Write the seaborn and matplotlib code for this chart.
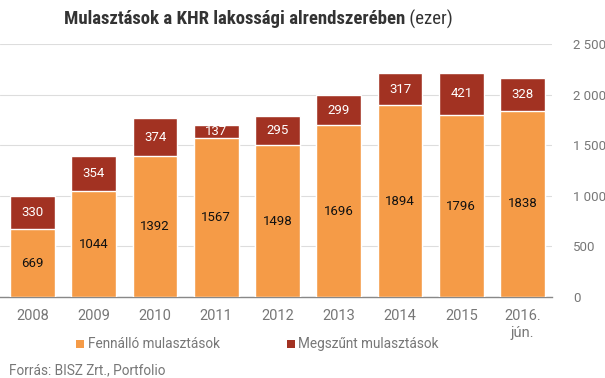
import matplotlib
matplotlib.use("Agg")
import matplotlib.pyplot as plt
import seaborn as sns
import pandas as pd
import numpy as np
from matplotlib.patches import Rectangle
from matplotlib import font_manager

years = ["2008", "2009", "2010", "2011", "2012", "2013", "2014", "2015", "2016.\njún."]
fennallo = [669, 1044, 1392, 1567, 1498, 1696, 1894, 1796, 1838]
megszunt = [330, 354, 374, 137, 295, 299, 317, 421, 328]
yticks = [0, 500, 1000, 1500, 2000, 2500]

ORANGE = "#F59B47"
RED = "#A23222"
GRAY = "#777777"

sns.set_theme(style="white")
plt.rcParams['font.family'] = ['Roboto', 'DejaVu Sans']

available = {f.name for f in font_manager.fontManager.ttflist}
cond = None
for cand in ["Roboto Condensed", "Liberation Sans Narrow", "Arial Narrow"]:
    if cand in available:
        cond = cand
        break

df = pd.DataFrame({"year": years, "fennallo": fennallo, "megszunt": megszunt})
df["total"] = df["fennallo"] + df["megszunt"]

fig = plt.figure(figsize=(6.05, 3.78), dpi=100)
ax = fig.add_axes([0.0, 1 - 297/378, 552/605, (297-44)/378])

sns.barplot(data=df, x="year", y="total", color=RED, saturation=1, width=0.73, ax=ax, zorder=3)
sns.barplot(data=df, x="year", y="fennallo", color=ORANGE, saturation=1, width=0.73, ax=ax, zorder=3)

for i, (f, m) in enumerate(zip(fennallo, megszunt)):
    ax.text(i, f/2, str(f), ha="center", va="center", fontsize=9.5, color="#111111", zorder=5)
    ax.text(i, f + m/2, str(m), ha="center", va="center", fontsize=9.5, color="white", zorder=5)

ax.set_xlim(-0.53, 8.48)
ax.set_ylim(0, 2500)
ax.set_yticks(yticks)
ax.set_yticklabels([f"{v:,}".replace(",", " ") for v in yticks])
ax.yaxis.tick_right()
ax.tick_params(axis="y", length=0, pad=15, labelsize=9.5, labelcolor=GRAY)
ax.tick_params(axis="x", length=0, pad=9, labelsize=10.5, labelcolor=GRAY)
for lab in ax.get_yticklabels():
    lab.set_ha("left")
ax.set_xlabel("")
ax.set_ylabel("")
ax.grid(axis="y", color="#dddddd", linewidth=0.8, zorder=0)
for s in ["top", "left", "right"]:
    ax.spines[s].set_visible(False)
ax.spines["bottom"].set_color("#888888")
ax.spines["bottom"].set_linewidth(1)

# Title (bold part + normal part), centred over ~x=258 px, total width ~380 px
title_y = 1 - 19/378
if cond:
    tfam = [cond, 'Roboto', 'DejaVu Sans']
    tsize = 13.5
else:
    tfam = ['Roboto', 'DejaVu Sans']
    tsize = 10.5
t1 = fig.text(0, title_y, "Mulasztások a KHR lakossági alrendszerében", ha="left", va="center",
              fontsize=tsize, fontweight="bold", color="#333333", family=tfam)
t2 = fig.text(0, title_y, " (ezer)", ha="left", va="center",
              fontsize=tsize, color="#333333", family=tfam)
fig.canvas.draw()
r = fig.canvas.get_renderer()
w1 = t1.get_window_extent(r).width
w2 = t2.get_window_extent(r).width
start = 258 - (w1 + w2) / 2
t1.set_x(start / 605)
t2.set_x((start + w1) / 605)

# Legend
fig.patches.append(Rectangle((76/605, 1 - 348/378), 8/605, 8/378, transform=fig.transFigure,
                             facecolor=ORANGE, edgecolor="none"))
fig.text(88/605, 1 - 344/378, "Fennálló mulasztások", ha="left", va="center", fontsize=9.8, color=GRAY)
fig.patches.append(Rectangle((287/605, 1 - 348/378), 8/605, 8/378, transform=fig.transFigure,
                             facecolor=RED, edgecolor="none"))
fig.text(298/605, 1 - 344/378, "Megszűnt mulasztások", ha="left", va="center", fontsize=9.8, color=GRAY)

fig.text(9/605, 1 - 370/378, "Forrás: BISZ Zrt., Portfolio", ha="left", va="center", fontsize=9.8, color=GRAY)

fig.savefig("out.png", dpi=100)
